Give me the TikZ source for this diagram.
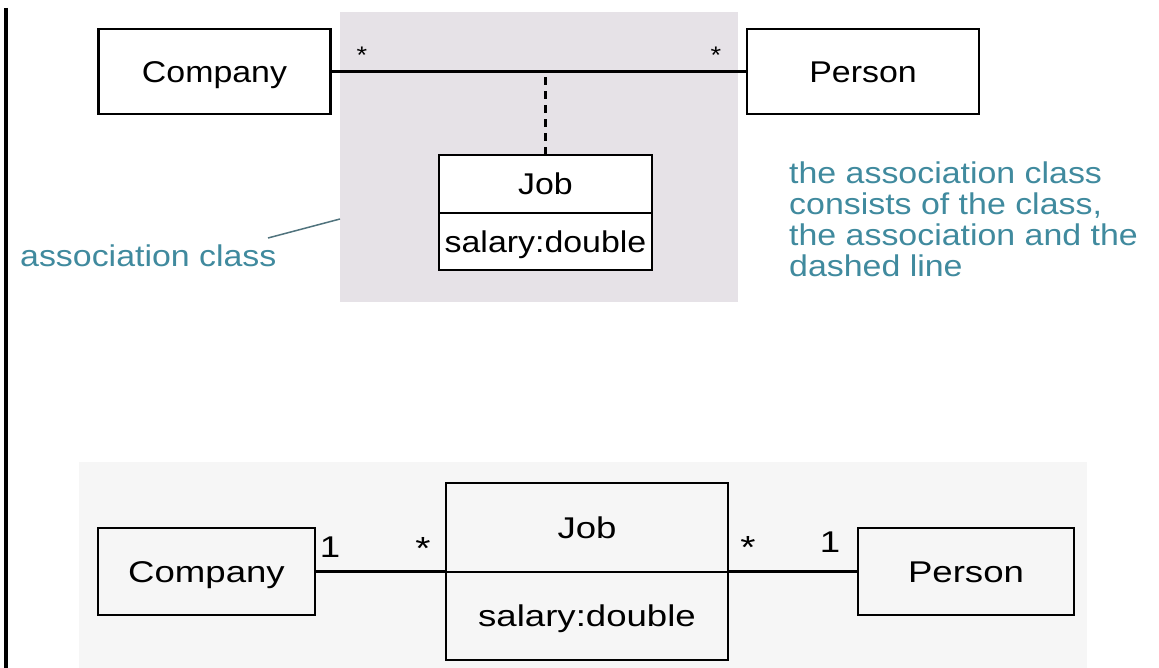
\documentclass[tikz,border=0pt]{standalone}
\usepackage{fontspec}
\setmainfont{Liberation Sans}
\newfontfamily\topfont[FakeStretch=1.13]{Liberation Sans}
\newfontfamily\botfont[FakeStretch=1.22]{Liberation Sans}
\definecolor{noteteal}{RGB}{64,138,158}
\definecolor{leadgrey}{RGB}{80,115,125}
\definecolor{topbg}{RGB}{230,226,231}
\definecolor{botbg}{RGB}{246,246,246}
\tikzset{
  clsbox/.style={draw=black, line width=2.7pt, inner sep=0pt, outer sep=0pt, text height=21.5pt, text depth=0pt},
  topcls/.style={clsbox, font=\topfont\fontsize{30}{36}\selectfont},
  botcls/.style={clsbox, font=\botfont\fontsize{30}{36}\selectfont},
  assoc/.style={line width=2.7pt},
  mult/.style={inner sep=0pt, anchor=base},
  note/.style={text=noteteal, inner sep=0pt, font=\topfont\fontsize{30}{31}\selectfont}
}
\begin{document}
\begin{tikzpicture}[x=1pt,y=-1pt]
\useasboundingbox (0,0) rectangle (1159,668);
% backgrounds
\fill[topbg] (340,12) rectangle (738,302);
\fill[botbg] (79,462) rectangle (1087,668);
% left rule
\draw[line width=4pt] (6,8) -- (6,668);

% ---------- top diagram ----------
\node[topcls, minimum width=232, minimum height=85] (compT) at (214.5,71.5) {Company};
\node[topcls, minimum width=232, minimum height=85] (persT) at (863,71.5) {Person};
\node[topcls, fill=white, minimum width=213, minimum height=58] (jobTa) at (545.5,184) {Job};
\node[topcls, fill=white, minimum width=213, minimum height=57, anchor=north] (jobTb) at (jobTa.south) {salary:double};
\draw[assoc] (compT.east) -- (persT.west);
\draw[assoc, dash pattern=on 8pt off 6pt] (jobTa.north) -- (jobTa.north |- compT.east);
\node[mult, font=\topfont\fontsize{24}{28}\selectfont] (mTl) at (362,64) {*};
\node[mult, font=\topfont\fontsize{24}{28}\selectfont] (mTr) at (716,64) {*};

\node[note, anchor=base west] (aclabel) at (20,267) {association class};
\coordinate (leadA) at (268,238);
\coordinate (leadB) at (340,219);
\draw[leadgrey, line width=1.5pt] (leadA) -- (leadB);

\node[note, anchor=north west, align=left] (explain) at (789,162)
  {the association class\\consists of the class,\\the association and the\\dashed line};

% ---------- bottom diagram ----------
\node[botcls, minimum width=217, minimum height=87] (compB) at (206.5,571.5) {Company};
\node[botcls, minimum width=282, minimum height=89] (jobBa) at (587,527.5) {Job};
\node[botcls, minimum width=282, minimum height=88, anchor=north] (jobBb) at (jobBa.south) {salary:double};
\node[botcls, minimum width=216, minimum height=87] (persB) at (966,571.5) {Person};
\draw[assoc] (compB.east) -- (compB.east -| jobBa.west);
\draw[assoc] (persB.west -| jobBa.east) -- (persB.west);
\node[mult, font=\botfont\fontsize{30}{34}\selectfont] (m1l) at (330,557) {1};
\node[mult, font=\botfont\fontsize{32}{36}\selectfont] (msl) at (423,559) {*};
\node[mult, font=\botfont\fontsize{32}{36}\selectfont] (msr) at (748,558) {*};
\node[mult, font=\botfont\fontsize{30}{34}\selectfont] (m1r) at (830,552) {1};
\end{tikzpicture}
\end{document}
